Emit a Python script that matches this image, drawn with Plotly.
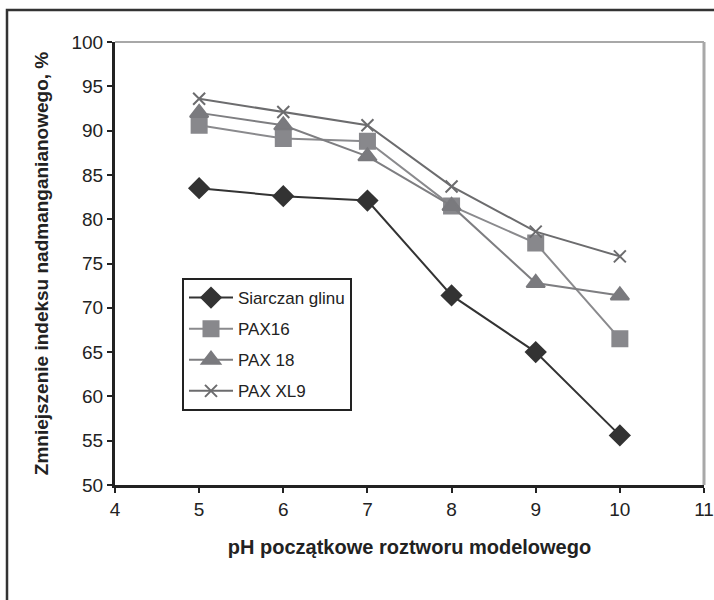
import plotly.graph_objects as go

ph = [5, 6, 7, 8, 9, 10]
siarczan = [83.5, 82.6, 82.1, 71.4, 65.0, 55.6]
pax16 = [90.6, 89.1, 88.8, 81.5, 77.3, 66.5]
pax18 = [92.0, 90.6, 87.1, 81.5, 72.8, 71.4]
paxxl9 = [93.6, 92.1, 90.6, 83.7, 78.6, 75.8]

names = ["Siarczan glinu", "PAX16", "PAX 18", "PAX XL9"]
x_ticks = [4, 5, 6, 7, 8, 9, 10, 11]
y_ticks = [50, 55, 60, 65, 70, 75, 80, 85, 90, 95, 100]

fig = go.Figure()
series = [
    (siarczan, "#333333", "#333333", "diamond", 15),
    (pax16, "#8a8a8d", "#88888c", "square", 15),
    (pax18, "#7e7e81", "#7a7a7e", "triangle-up", 16),
    (paxxl9, "#6c6c6e", "#6c6c6e", "x-thin", 12),
]
for i, ((vals, lc, mc, sym, sz), nm) in enumerate(zip(series, names)):
    fig.add_trace(go.Scatter(
        x=ph, y=vals, name=nm, mode="lines+markers", legendgroup=f"g{i}",
        line=dict(color=lc, width=2),
        marker=dict(symbol=sym, size=sz, color=mc, line=dict(color=mc, width=2)),
    ))

L, R, T, B = 115, 10, 42, 115
W, H = 714, 600
pw, phh = W - L - R, H - T - B

fig.update_layout(
    width=W, height=H,
    margin=dict(l=L, r=R, t=T, b=B, autoexpand=False),
    paper_bgcolor="white", plot_bgcolor="white",
    font=dict(family="Liberation Sans, Arial, sans-serif", size=19, color="#222222"),
    showlegend=True,
    legend=dict(
        x=(182 - L) / pw, y=1 - (278 - T) / phh, xanchor="left", yanchor="top",
        bgcolor="white", bordercolor="#222222", borderwidth=2,
        font=dict(size=17, color="#222222"),
        tracegroupgap=6, itemwidth=44,
    ),
    xaxis=dict(
        range=[4, 11], tickvals=x_ticks, showgrid=False, zeroline=False,
        showline=True, linecolor="#222222", linewidth=3, automargin=False,
        ticks="outside", ticklen=5, tickwidth=2, tickcolor="#222222",
        title=dict(text="<b>pH początkowe roztworu modelowego</b>", font=dict(size=20), standoff=22),
        tickfont=dict(size=19),
    ),
    yaxis=dict(
        range=[50, 100], tickvals=y_ticks, showgrid=False, zeroline=False,
        showline=True, linecolor="#222222", linewidth=3, automargin=False,
        ticks="outside", ticklen=5, tickwidth=2, tickcolor="#222222",
        title=dict(text="<b>Zmniejszenie indeksu nadmanganianowego, %</b>", font=dict(size=19), standoff=18),
        tickfont=dict(size=19),
    ),
    shapes=[
        dict(type="line", xref="paper", yref="paper", x0=0, x1=1, y0=1, y1=1,
             line=dict(color="#a8a8a8", width=2)),
        dict(type="line", xref="paper", yref="paper", x0=1, x1=1, y0=0, y1=1,
             line=dict(color="#a8a8a8", width=3)),
        dict(type="rect", xref="paper", yref="paper",
             x0=(7 - L) / pw, x1=1.2, y0=-0.5, y1=1 + (T - 10) / phh,
             line=dict(color="#333333", width=2.5), layer="below"),
    ],
)

fig.write_html("out.html")
